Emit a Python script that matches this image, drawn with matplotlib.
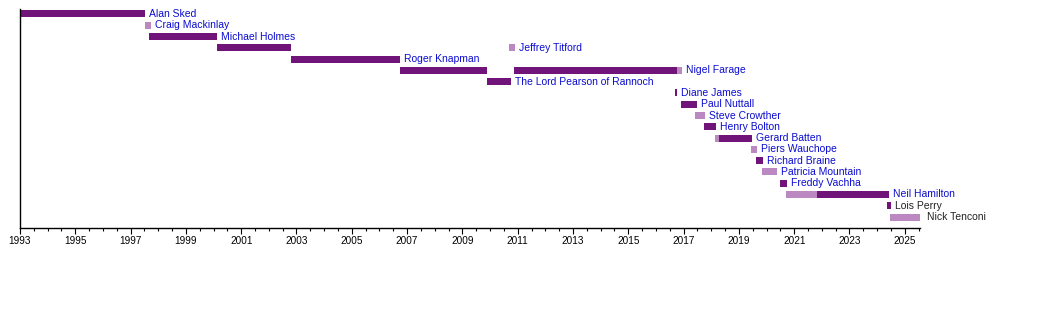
import matplotlib.pyplot as plt
from matplotlib.ticker import MultipleLocator

plt.rcParams['font.family'] = ['Liberation Sans', 'DejaVu Sans']

# leaders, top to bottom
leaders = ['Alan Sked', 'Craig Mackinlay', 'Michael Holmes', 'Jeffrey Titford',
           'Roger Knapman', 'Nigel Farage', 'The Lord Pearson of Rannoch',
           'Diane James', 'Paul Nuttall', 'Steve Crowther', 'Henry Bolton',
           'Gerard Batten', 'Piers Wauchope', 'Richard Braine', 'Patricia Mountain',
           'Freddy Vachha', 'Neil Hamilton', 'Lois Perry', 'Nick Tenconi']
linked = [True] * 17 + [False, False]

# terms: row index, start, end, acting (light) or not
term_row = [0, 1, 2, 3, 3, 4, 5, 5, 5, 6, 7, 8, 9, 10, 11, 11, 12, 13, 14, 15, 16, 16, 17, 18]
term_start = [1993.0, 1997.52, 1997.68, 2000.12, 2010.70, 2002.80, 2006.75, 2010.88, 2016.76,
              2009.90, 2016.70, 2016.92, 2017.43, 2017.74, 2018.13, 2018.28, 2019.44, 2019.61,
              2019.84, 2020.49, 2020.69, 2021.82, 2024.37, 2024.45]
term_end = [1997.52, 1997.72, 2000.12, 2002.80, 2010.90, 2006.75, 2009.90, 2016.76, 2016.94,
            2010.74, 2016.76, 2017.47, 2017.77, 2018.16, 2018.28, 2019.48, 2019.66, 2019.87,
            2020.39, 2020.74, 2021.82, 2024.44, 2024.49, 2025.55]
term_acting = [False, True, False, False, True, False, False, False, True,
               False, False, False, True, False, True, False, True, False,
               True, False, True, False, False, True]

dark = '#70147a'
light = '#bb88c2'

fig = plt.figure(figsize=(10.5, 3.26), dpi=100)
ax = fig.add_axes([20 / 1050, 98 / 326, 900 / 1050, 219 / 326])

for r, s, e, a in zip(term_row, term_start, term_end, term_acting):
    ax.barh(r, e - s, left=s, height=0.62, color=light if a else dark, linewidth=0)

for i, name in enumerate(leaders):
    last = max(e for r, e in zip(term_row, term_end) if r == i)
    pad = 5 if i == len(leaders) - 1 else 3
    ax.annotate(name, (last, i), xytext=(pad, 0), textcoords='offset points',
                va='center', ha='left', fontsize=7.5,
                color='#0c0cd0' if linked[i] else '#222222', annotation_clip=False)

ax.set_xlim(1993, 2025.55)
ax.set_ylim(18.97, -0.44)
ax.xaxis.set_major_locator(MultipleLocator(2, offset=1))
ax.xaxis.set_minor_locator(MultipleLocator(0.5))
ax.tick_params(axis='x', which='major', length=4, width=0.8, labelsize=7.2, pad=2)
ax.tick_params(axis='x', which='minor', length=2, width=0.8)
ax.set_yticks([])
for side in ['top', 'right']:
    ax.spines[side].set_visible(False)
ax.spines['left'].set_linewidth(1)
ax.spines['bottom'].set_linewidth(1)

fig.savefig('out.png', dpi=100)
